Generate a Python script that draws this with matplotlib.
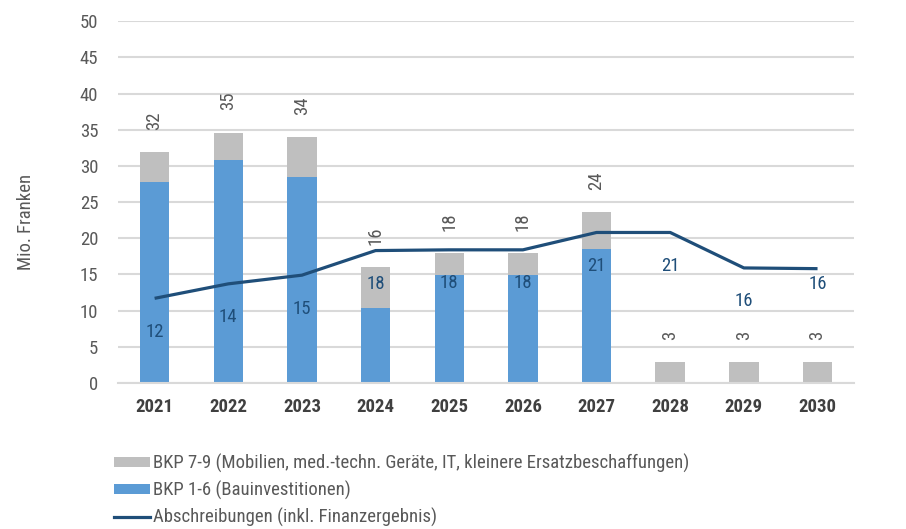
import matplotlib
matplotlib.use('Agg')
import matplotlib.pyplot as plt
import numpy as np
from matplotlib.patches import Patch
from matplotlib.lines import Line2D

plt.rcParams['font.family'] = ['Roboto Condensed', 'Liberation Sans', 'DejaVu Sans']

years = ['2021', '2022', '2023', '2024', '2025', '2026', '2027', '2028', '2029', '2030']
bau = [27.8, 30.8, 28.4, 10.3, 14.9, 14.9, 18.5, 0, 0, 0]          # BKP 1-6
mobilien = [4.1, 3.8, 5.6, 5.7, 3.0, 3.0, 5.1, 2.9, 2.9, 2.9]      # BKP 7-9
abschreibungen = [11.7, 13.7, 14.9, 18.3, 18.4, 18.4, 20.8, 20.8, 15.9, 15.8]

blue = '#5b9bd5'
grey = '#bfbfbf'
navy = '#1f4e79'
txt = '#595959'

fig = plt.figure(figsize=(9.06, 5.29), dpi=100)
ax = fig.add_axes([0.130, 0.276, 0.813, 0.684])

x = np.arange(len(years))
totals = np.array(bau) + np.array(mobilien)
ax.bar(x, bau, width=0.4, color=blue, zorder=2)
ax.bar(x, mobilien, width=0.4, bottom=bau, color=grey, zorder=2)
ax.plot(x, abschreibungen, color=navy, lw=2.3, zorder=3, solid_capstyle='butt')

# totals above the bars, rotated
for xi, t in zip(x, totals):
    ax.annotate(f'{round(t):d}', (xi, t), xytext=(0, 16), textcoords='offset points',
                rotation=90, ha='center', va='bottom', fontsize=13.5, color=txt, zorder=4)

# depreciation labels below the line
for i, v in enumerate(abschreibungen):
    off = -24 if i < len(years) - 1 else -11
    ax.annotate(f'{round(v):d}', (x[i], v), xytext=(0, off), textcoords='offset points',
                ha='center', va='center', fontsize=13.5, color=navy, zorder=4)

ax.set_xlim(-0.5, len(years) - 0.5)
ax.set_ylim(0, 50)
ax.set_yticks(range(0, 51, 5))
ax.set_xticks(x)
ax.set_xticklabels(years, fontweight='bold', color='#404040', fontsize=13.5)
ax.tick_params(axis='y', length=0, pad=14, labelsize=13.5, labelcolor=txt)
ax.tick_params(axis='x', length=0, pad=11)
ax.yaxis.grid(True, color='#d9d9d9', lw=1.5, zorder=0)
ax.set_axisbelow(True)
for s in ['top', 'right', 'left']:
    ax.spines[s].set_visible(False)
ax.spines['bottom'].set_color('#d9d9d9')
ax.spines['bottom'].set_linewidth(1.5)

fig.text(0.029, 0.58, 'Mio. Franken', rotation=90, ha='center', va='center',
         fontsize=13.5, color=txt)

handles = [
    Patch(facecolor=grey, edgecolor='none'),
    Patch(facecolor=blue, edgecolor='none'),
    Line2D([0], [0], color=navy, lw=2.3),
]
labels = [
    'BKP 7-9 (Mobilien, med.-techn. Geräte, IT, kleinere Ersatzbeschaffungen)',
    'BKP 1-6 (Bauinvestitionen)',
    'Abschreibungen (inkl. Finanzergebnis)',
]
leg = fig.legend(handles, labels, loc='upper left', bbox_to_anchor=(0.126, 0.142),
                 frameon=False, fontsize=13.5, handlelength=1.9, handleheight=0.45,
                 handletextpad=0.15, labelspacing=0.42, borderpad=0, borderaxespad=0)
for t in leg.get_texts():
    t.set_color(txt)

fig.savefig('out.png', dpi=100)
